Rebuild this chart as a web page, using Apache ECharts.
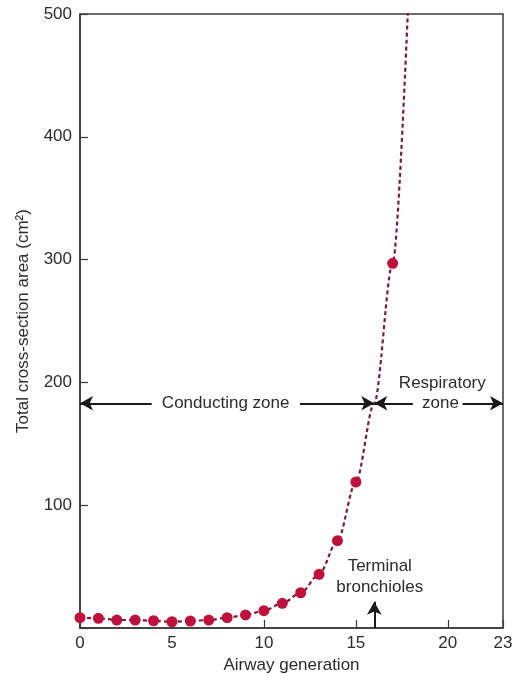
<!DOCTYPE html>
<html>
<head>
<meta charset="utf-8">
<script src="https://cdn.jsdelivr.net/npm/echarts@6/dist/echarts.min.js"></script>
<style>
  html, body { margin: 0; padding: 0; background: #fff; }
  #chart { width: 521px; height: 679px; }
</style>
</head>
<body>
<div id="chart"></div>
<script>
// Airway generation vs total cross-section area (cm²)
const generations = [0, 1, 2, 3, 4, 5, 6, 7, 8, 9, 10, 11, 12, 13, 14, 15, 16, 17, 18];
const areas = [8.4, 7.9, 6.5, 6.5, 5.9, 5.1, 5.7, 6.5, 8.4, 10.6, 14.1, 20.1, 28.7, 43.7, 71.1, 118.9, 183, 297, 565];
// generations drawn without a dot (curve only)
const curveOnly = [16, 18];

const xTicks = { min: 0, max: 23, interval: 5 };
const yTicks = { min: 0, max: 500, interval: 100 };

// zone boundary annotations
const zoneLevel = 183;
const terminalGen = 16;
const zoneArrows = [
  [[3.9, zoneLevel], [0, zoneLevel]],
  [[11.96, zoneLevel], [terminalGen, zoneLevel]],
  [[18.1, zoneLevel], [terminalGen, zoneLevel]],
  [[20.8, zoneLevel], [23, zoneLevel]],
  [[terminalGen, 0], [terminalGen, 21.4]]
];
const annotations = [
  [7.92, zoneLevel, 'Conducting zone'],
  [19.6, zoneLevel, 'zone'],
  [19.7, 199.5, 'Respiratory'],
  [16.3, 41.5, 'Terminal\nbronchioles']
];

const FONT = "'Liberation Sans', Arial, Helvetica, sans-serif";
const TEXT = '#2b2b2b';
const AXIS = '#3a3a3a';

const lineData = generations.map((g, i) => {
  const item = { value: [g, areas[i]] };
  if (curveOnly.includes(g)) item.symbol = 'none';
  return item;
});

const chart = echarts.init(document.getElementById('chart'), null, { renderer: 'canvas' });

chart.setOption({
  animation: false,
  backgroundColor: '#fff',
  textStyle: { fontFamily: FONT },
  grid: {
    left: 80, right: 18, top: 14, bottom: 51,
    show: true, borderColor: AXIS, borderWidth: 1.5, backgroundColor: 'transparent'
  },
  xAxis: {
    type: 'value',
    min: xTicks.min, max: xTicks.max, interval: xTicks.interval,
    name: 'Airway generation',
    nameLocation: 'middle',
    nameGap: 29,
    nameTextStyle: { color: TEXT, fontSize: 17, fontFamily: FONT },
    axisLine: { show: true, lineStyle: { color: AXIS, width: 1.5 } },
    axisTick: { show: true, inside: true, length: 8, lineStyle: { color: AXIS, width: 1.2 } },
    axisLabel: { color: TEXT, fontSize: 17, margin: 7, fontFamily: FONT },
    splitLine: { show: false }
  },
  yAxis: {
    type: 'value',
    min: yTicks.min, max: yTicks.max, interval: yTicks.interval,
    name: 'Total cross-section area (cm²)',
    nameLocation: 'middle',
    nameGap: 48,
    nameRotate: 90,
    nameTextStyle: { color: TEXT, fontSize: 17, fontFamily: FONT },
    axisLine: { show: true, lineStyle: { color: AXIS, width: 1.5 } },
    axisTick: { show: true, inside: true, length: 8, lineStyle: { color: AXIS, width: 1.2 } },
    axisLabel: {
      color: TEXT, fontSize: 17, margin: 8, fontFamily: FONT,
      formatter: v => (v === 0 ? '' : String(v))
    },
    splitLine: { show: false }
  },
  series: [
    {
      name: 'area',
      type: 'line',
      data: lineData,
      smooth: 0.3,
      smoothMonotone: 'x',
      clip: true,
      symbol: 'circle',
      symbolSize: 11,
      itemStyle: { color: '#c0103c' },
      lineStyle: { color: '#7e1a3a', width: 2.2, type: [4, 3] },
      z: 3
    },
    {
      name: 'zones',
      type: 'line',
      data: [],
      markLine: {
        silent: true,
        symbol: ['none', 'arrow'],
        symbolSize: [11, 13],
        label: { show: false },
        lineStyle: { color: '#1a1a1a', width: 2, type: 'solid' },
        data: zoneArrows.map(seg => [{ coord: seg[0] }, { coord: seg[1] }])
      },
      z: 4
    },
    {
      name: 'labels',
      type: 'scatter',
      symbolSize: 0,
      silent: true,
      itemStyle: { opacity: 1 },
      data: annotations.map(a => ({ value: [a[0], a[1]], name: a[2] })),
      label: {
        show: true,
        position: 'inside',
        formatter: p => p.name,
        color: TEXT,
        fontSize: 17,
        lineHeight: 21,
        align: 'center',
        verticalAlign: 'middle',
        fontFamily: FONT
      },
      z: 5
    }
  ]
});
</script>
</body>
</html>
